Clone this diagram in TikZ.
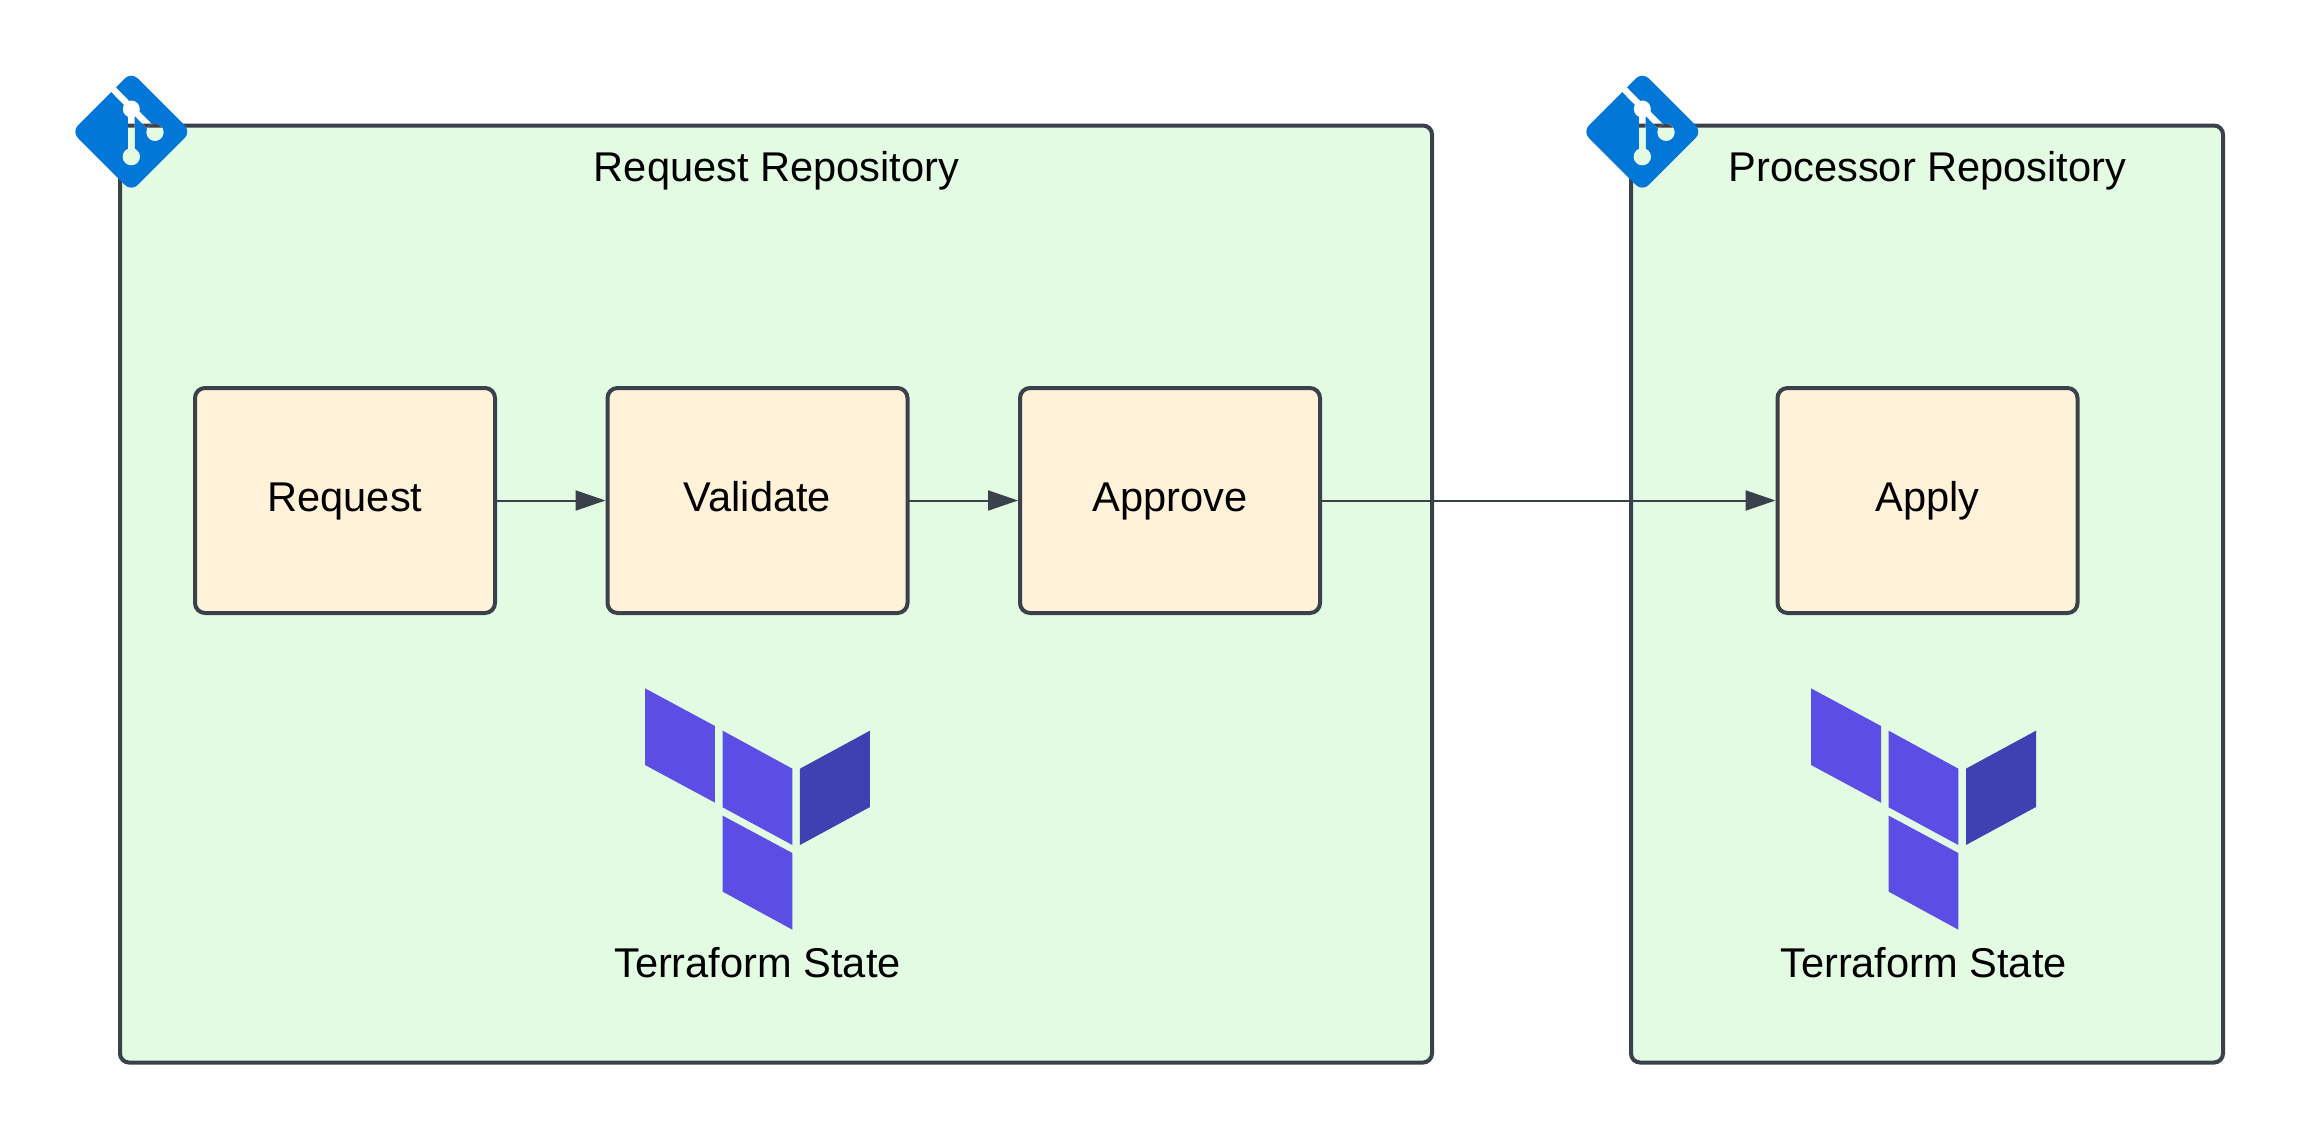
\documentclass[tikz,border=0pt]{standalone}
\usepackage{fontspec}
\setmainfont{Liberation Sans}
\usetikzlibrary{arrows.meta}
\definecolor{repogreen}{HTML}{E3FAE3}
\definecolor{stepfill}{HTML}{FFF2D9}
\definecolor{edgegrey}{HTML}{3A414A}
\definecolor{gitblue}{HTML}{0277D8}
\definecolor{tfpurple}{HTML}{5C4EE5}
\definecolor{tfdark}{HTML}{4040B2}
\tikzset{
  repobox/.style={draw=edgegrey,fill=repogreen,line width=4pt,rounded corners=9pt,inner sep=0pt,outer sep=0pt},
  stepbox/.style={draw=edgegrey,fill=stepfill,line width=4pt,rounded corners=10pt,inner sep=0pt,outer sep=0pt,
    minimum width=300pt,minimum height=225pt,text height=30pt,text depth=9pt,font=\fontsize{41.6}{50}\selectfont},
  titletext/.style={inner sep=0pt,font=\fontsize{41.6}{50}\selectfont},
  flow/.style={draw=edgegrey,line width=2pt,-{Triangle[length=30pt,width=20pt]},shorten >=2pt},
}
\newcommand{\holepart}[2]{%
  \begin{scope}
    \clip #2;
    \fill[white] (90,60) rectangle (180,180);
    \path[repobox] (#1.south west) rectangle (#1.north east);
  \end{scope}}
\newcommand{\gitlogo}[2]{%
  \begin{scope}[xshift=#2pt,yshift=0pt]
    \fill[gitblue,rounded corners=9pt] (131.3,72) -- (191,131.7) -- (131.3,191.4) -- (71.6,131.7) -- cycle;
  \end{scope}
  \begin{scope}[xshift=#2pt]
    \holepart{#1}{(107.7,88.3) -- (112.3,83.7) -- (157.3,129.7) -- (152.7,134.3) -- cycle}
    \holepart{#1}{(128,109) rectangle (134.6,157)}
    \holepart{#1}{(131.3,109) circle (8.5)}
    \holepart{#1}{(131.3,156.7) circle (8.5)}
    \holepart{#1}{(155,132.3) circle (8.5)}
  \end{scope}}
\newcommand{\tflogo}[1]{%
  \begin{scope}[shift={(#1,670)},x=0.3333pt,y=-0.3333pt]
    \fill[tfpurple] (75,55) -- (285,168) -- (285,398) -- (75,285) -- cycle;
    \fill[tfpurple] (308,182) -- (517,296) -- (517,525) -- (308,412) -- cycle;
    \fill[tfdark] (540,296) -- (750,182) -- (750,411) -- (540,525) -- cycle;
    \fill[tfpurple] (308,437) -- (517,549) -- (517,779) -- (308,665) -- cycle;
  \end{scope}}
\begin{document}
\begin{tikzpicture}[x=1pt,y=-1pt]
  \useasboundingbox[fill=white] (0,0) rectangle (2299,1138);
  \node[repobox,minimum width=1312pt,minimum height=937pt] (reqrepo) at (776,594) {};
  \node[repobox,minimum width=592pt,minimum height=937pt] (procrepo) at (1927,594) {};
  \node[titletext] (reqtitle) at (776.5,171) {Request Repository};
  \node[titletext] (proctitle) at (1927.5,171) {Processor Repository};
  \node[stepbox] (request) at (345,500.5) {Request};
  \node[stepbox] (validate) at (757.5,500.5) {Validate};
  \node[stepbox] (approve) at (1170,500.5) {Approve};
  \node[stepbox] (apply) at (1927.5,500.5) {Apply};
  \draw[flow] (request) -- (validate);
  \draw[flow] (validate) -- (approve);
  \draw[flow] (approve) -- (apply);
  \tflogo{620}
  \tflogo{1786}
  \node[titletext] (reqstate) at (757.5,963) {Terraform State};
  \node[titletext] (procstate) at (1923.5,963) {Terraform State};
  \gitlogo{reqrepo}{0}
  \gitlogo{procrepo}{1511}
\end{tikzpicture}
\end{document}
